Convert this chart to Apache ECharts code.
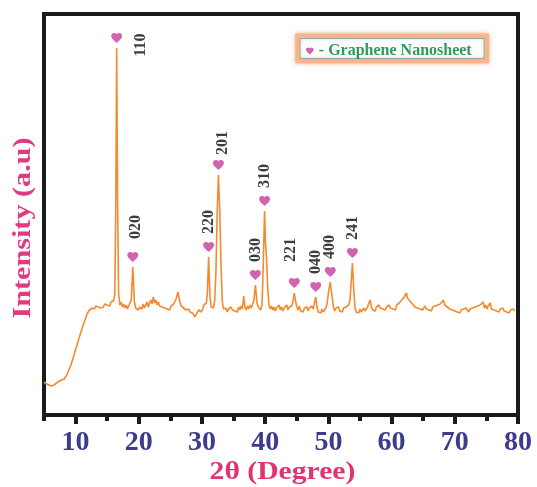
<!DOCTYPE html>
<html>
<head>
<meta charset="utf-8">
<title>XRD pattern</title>
<script src="https://cdn.jsdelivr.net/npm/echarts@6/dist/echarts.min.js"></script>
<style>
  html, body { margin: 0; padding: 0; background: #ffffff; }
  #chart { width: 537px; height: 487px; }
</style>
</head>
<body>
<div id="chart"></div>
<script>
// Diffractogram: [2θ (degree), intensity (a.u.)]
const pattern = [
  [5.0,31],[5.2,30],[5.4,29],[5.6,31],[5.8,28],[6.0,30],[6.2,27],[6.4,29],[6.6,28],[6.8,27],
  [7.0,30],[7.2,29],[7.4,32],[7.6,31],[7.8,33],[8.0,32],[8.2,34],[8.4,36],[8.6,38],[8.8,40],
  [9.0,44],[9.2,47],[9.4,51],[9.6,55],[9.8,59],[10.0,64],[10.2,67],[10.4,72],[10.6,76],[10.8,80],
  [11.0,84],[11.2,88],[11.4,90],[11.6,95],[11.8,99],[12.0,101],[12.2,103],[12.4,102],[12.6,105],[12.8,106],
  [13.0,104],[13.2,107],[13.4,105],[13.6,106],[13.8,108],[14.0,105],[14.2,107],[14.4,106],[14.6,109],[14.8,107],
  [15.0,108],[15.2,110],[15.4,107],[15.6,111],[15.8,109],[16.0,112],[16.2,118],[16.35,200],[16.5,365],[16.65,210],
  [16.8,120],[17.0,108],[17.2,111],[17.4,106],[17.6,109],[17.8,105],[18.0,108],[18.2,104],[18.4,107],[18.6,106],
  [18.8,113],[19.05,146],[19.3,111],[19.5,105],[19.7,107],[19.9,103],[20.1,106],[20.3,108],[20.5,104],[20.7,109],
  [20.9,105],[21.1,107],[21.3,111],[21.5,106],[21.7,110],[21.9,113],[22.1,109],[22.3,116],[22.5,110],[22.7,113],
  [22.9,108],[23.1,111],[23.3,107],[23.5,109],[23.7,106],[23.9,108],[24.1,105],[24.3,107],[24.5,104],[24.7,106],
  [24.9,103],[25.1,107],[25.3,105],[25.5,109],[25.7,107],[25.9,114],[26.2,121],[26.5,111],[26.7,107],[26.9,109],
  [27.1,105],[27.3,107],[27.5,103],[27.7,105],[27.9,104],[28.1,101],[28.3,103],[28.5,100],[28.7,98],[28.9,96],
  [29.1,99],[29.3,97],[29.5,103],[29.7,105],[29.9,101],[30.1,104],[30.3,108],[30.5,106],[30.7,110],[30.85,120],
  [31.05,156],[31.25,118],[31.45,106],[31.6,108],[31.8,105],[32.0,112],[32.2,140],[32.4,200],[32.6,238],[32.8,205],
  [33.0,150],[33.2,112],[33.4,104],[33.6,102],[33.8,105],[34.0,101],[34.2,104],[34.4,102],[34.6,106],[34.8,103],
  [35.0,105],[35.2,102],[35.4,104],[35.6,101],[35.8,106],[36.0,103],[36.2,107],[36.4,104],[36.6,117],[36.8,106],
  [37.0,103],[37.2,107],[37.4,104],[37.6,108],[37.8,105],[38.0,109],[38.2,112],[38.45,128],[38.7,110],[38.9,106],
  [39.1,104],[39.3,103],[39.5,108],[39.7,150],[39.9,202],[40.05,170],[40.2,156],[40.4,125],[40.6,108],[40.8,104],
  [41.0,107],[41.2,103],[41.4,106],[41.6,102],[41.8,105],[42.0,104],[42.2,108],[42.4,103],[42.6,106],[42.8,102],
  [43.0,105],[43.2,104],[43.4,108],[43.6,103],[43.8,106],[44.0,104],[44.2,107],[44.4,112],[44.6,120],[44.8,112],
  [45.0,106],[45.2,103],[45.4,107],[45.6,102],[45.8,104],[46.0,101],[46.2,105],[46.4,103],[46.6,106],[46.8,102],
  [47.0,105],[47.2,103],[47.4,107],[47.6,104],[47.8,110],[48.0,116],[48.2,106],[48.4,101],[48.6,103],[48.8,100],
  [49.0,104],[49.2,101],[49.4,102],[49.6,105],[49.8,110],[50.0,120],[50.3,131],[50.55,118],[50.8,106],[51.0,102],
  [51.2,105],[51.4,103],[51.6,106],[51.8,102],[52.0,104],[52.2,101],[52.4,105],[52.6,103],[52.8,106],[53.0,104],
  [53.2,108],[53.4,112],[53.6,130],[53.8,150],[54.0,125],[54.2,106],[54.4,101],[54.6,103],[54.8,100],[55.0,104],
  [55.2,101],[55.4,103],[55.6,105],[55.8,102],[56.0,104],[56.2,106],[56.4,110],[56.6,113],[56.8,106],[57.0,103],
  [57.2,105],[57.4,102],[57.6,106],[57.8,104],[58.0,108],[58.2,105],[58.4,107],[58.6,104],[58.8,106],[59.0,103],
  [59.2,106],[59.4,104],[59.6,108],[59.8,105],[60.0,107],[60.2,104],[60.4,106],[60.6,103],[60.8,108],[61.0,106],
  [61.2,110],[61.4,108],[61.6,113],[61.8,111],[62.0,116],[62.2,114],[62.35,120],[62.5,115],[62.7,117],[62.9,112],
  [63.1,113],[63.3,109],[63.5,110],[63.7,106],[63.9,108],[64.1,105],[64.3,107],[64.5,104],[64.7,106],[64.9,103],
  [65.1,105],[65.3,107],[65.5,104],[65.7,106],[65.9,103],[66.1,105],[66.3,102],[66.5,106],[66.7,104],[66.9,107],
  [67.1,105],[67.3,108],[67.5,106],[67.7,109],[67.9,107],[68.2,113],[68.4,108],[68.6,110],[68.8,106],[69.0,108],
  [69.2,104],[69.4,106],[69.6,103],[69.8,105],[70.0,102],[70.2,104],[70.4,101],[70.6,103],[70.8,100],[71.0,103],
  [71.2,101],[71.4,104],[71.6,102],[71.8,105],[72.0,103],[72.2,101],[72.4,104],[72.6,102],[72.8,105],[73.0,103],
  [73.2,106],[73.4,104],[73.6,107],[73.8,105],[74.0,108],[74.2,106],[74.5,111],[74.7,105],[74.9,108],[75.1,104],
  [75.3,107],[75.6,110],[75.8,104],[76.0,106],[76.2,103],[76.4,105],[76.6,102],[76.8,104],[77.0,101],[77.2,104],
  [77.4,102],[77.6,105],[77.8,102],[78.0,104],[78.2,101],[78.4,103],[78.6,100],[78.8,103],[79.0,101],[79.2,104],
  [79.5,102]
];

// Indexed reflections (Miller indices) and their 2θ positions
const peakHkl = ['110', '020', '220', '201', '030', '310', '221', '040', '400', '241'];
const peakTwoTheta = [16.5, 19.05, 31.05, 32.6, 38.45, 39.9, 44.6, 48.0, 50.3, 53.8];

const xMajorTicks = [10, 20, 30, 40, 50, 60, 70, 80];
const legendName = '- Graphene Nanosheet';

// --- presentation -------------------------------------------------------
const serif = "'Liberation Serif', 'Times New Roman', serif";
const heart = 'path://M12,21.4 L10.6,20.1 C5.4,15.4 2,12.3 2,8.5 C2,5.4 4.4,3 7.5,3 C9.2,3 10.9,3.8 12,5.1 C13.1,3.8 14.8,3 16.5,3 C19.6,3 22,5.4 22,8.5 C22,12.3 18.6,15.4 13.4,20.1 Z';

// screen-pixel nudges [right, down] of the hkl labels from their reflection apex
const labelNudge = { '110': [24, -3], '020': [3, -40], '201': [4, -32], '221': [-3, -43] };
const defaultNudge = [0, -35];

// apex intensity of each reflection, taken from the pattern itself
const apexOf = t => pattern.find(p => Math.abs(p[0] - t) < 1e-6)[1];
const peakPoints = peakTwoTheta.map(t => [t, apexOf(t)]);

const chart = echarts.init(document.getElementById('chart'), null, { renderer: 'canvas' });

chart.setOption({
  animation: false,
  backgroundColor: '#ffffff',
  grid: {
    left: 44, right: 19, top: 14, bottom: 72,
    show: true, borderColor: '#1b1b1b', borderWidth: 4, backgroundColor: 'transparent'
  },
  xAxis: [
    {
      type: 'value', min: 5, max: 80, interval: 5,
      axisLine: { show: false, onZero: false },
      splitLine: { show: false },
      axisTick: { show: true, inside: false, length: 6, lineStyle: { color: '#1b1b1b', width: 4 } },
      axisLabel: {
        margin: 14,
        fontFamily: serif, fontWeight: 'bold', fontSize: 28, color: '#3d3b8e',
        formatter: v => (xMajorTicks.indexOf(v) >= 0 ? String(v) : '')
      }
    },
    {
      type: 'value', min: 5, max: 80, position: 'bottom',
      axisLine: { show: false, onZero: false },
      splitLine: { show: false },
      axisLabel: { show: false },
      axisTick: { show: true, inside: false, length: 9, customValues: xMajorTicks,
                  lineStyle: { color: '#1b1b1b', width: 4 } }
    }
  ],
  yAxis: {
    type: 'value', min: -2, max: 399,
    axisLine: { show: false, onZero: false }, axisTick: { show: false },
    axisLabel: { show: false }, splitLine: { show: false }
  },
  legend: {
    data: [{ name: legendName, icon: heart }],
    left: 306, top: 43, padding: 0,
    itemWidth: 8, itemHeight: 7,
    selectedMode: false,
    textStyle: { fontFamily: serif, fontWeight: 'bold', fontSize: 16, color: '#2f9a5c' }
  },
  graphic: [
    {
      type: 'rect', z: 1,
      shape: { x: 297.5, y: 35.7, width: 189.2, height: 25.3 },
      style: { fill: '#ffffff', stroke: '#f6b58b', lineWidth: 4.5,
               shadowBlur: 4, shadowColor: 'rgba(242,150,90,0.7)' }
    },
    {
      type: 'rect', z: 2,
      shape: { x: 300, y: 38.5, width: 184.2, height: 20 },
      style: { fill: 'none', stroke: '#8fa8b0', lineWidth: 1 }
    },
    {
      type: 'text', z: 5,
      x: 282.5, y: 472, scaleX: 1.14,
      style: { text: '2θ (Degree)', fontFamily: serif, fontWeight: 'bold', fontSize: 26,
               fill: '#e1336f', textAlign: 'center', textVerticalAlign: 'middle' }
    },
    {
      type: 'text', z: 5,
      x: 23, y: 228, rotation: Math.PI / 2, scaleX: 1.16,
      style: { text: 'Intensity (a.u)', fontFamily: serif, fontWeight: 'bold', fontSize: 26,
               fill: '#e23a80', textAlign: 'center', textVerticalAlign: 'middle' }
    }
  ],
  series: [
    {
      name: 'pattern', type: 'line', data: pattern,
      showSymbol: false, symbol: 'none', smooth: false,
      lineStyle: { color: '#f58a2e', width: 1.6 },
      z: 2, silent: true
    },
    {
      name: legendName, type: 'scatter',
      data: peakPoints,
      symbol: heart, symbolSize: [11, 10], symbolOffset: [0, -10],
      itemStyle: { color: '#c43d9c' },
      z: 3, silent: true
    },
    {
      name: 'hkl', type: 'scatter',
      data: peakPoints.map((p, i) => ({ name: peakHkl[i], value: p })),
      symbolSize: 1, itemStyle: { color: 'rgba(0,0,0,0)' },
      label: {
        show: true, position: 'inside', rotate: 90,
        formatter: d => d.name,
        fontFamily: serif, fontWeight: 'bold', fontSize: 16, color: '#0d0d0d'
      },
      // the layout shift is applied in the label's own (rotated) frame
      labelLayout: params => {
        const n = labelNudge[peakHkl[params.dataIndex]] || defaultNudge;
        return { dx: -n[1], dy: n[0], hideOverlap: false };
      },
      z: 4, silent: true
    }
  ]
});
</script>
</body>
</html>
